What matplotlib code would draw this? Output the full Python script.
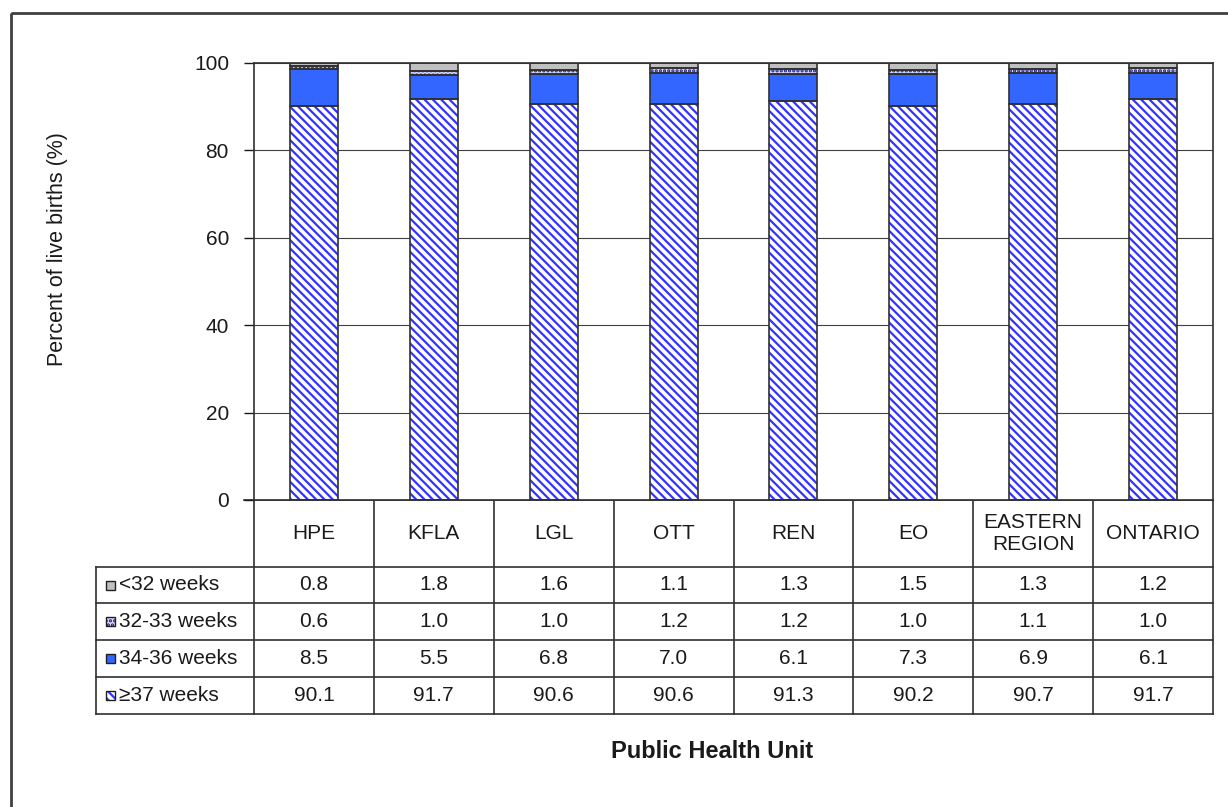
import matplotlib
matplotlib.use('Agg')
import matplotlib.pyplot as plt
from matplotlib.patches import Rectangle

# ---------------- data ----------------
units = ["HPE", "KFLA", "LGL", "OTT", "REN", "EO", "EASTERN\nREGION", "ONTARIO"]
series_names = ["<32 weeks", "32-33 weeks", "34-36 weeks", "\u226537 weeks"]
lt32 = [0.8, 1.8, 1.6, 1.1, 1.3, 1.5, 1.3, 1.2]
w32_33 = [0.6, 1.0, 1.0, 1.2, 1.2, 1.0, 1.1, 1.0]
w34_36 = [8.5, 5.5, 6.8, 7.0, 6.1, 7.3, 6.9, 6.1]
ge37 = [90.1, 91.7, 90.6, 90.6, 91.3, 90.2, 90.7, 91.7]
yticks = [0, 20, 40, 60, 80, 100]
y_label = "Percent of live births (%)"
x_label = "Public Health Unit"

plt.rcParams['font.family'] = ['Liberation Sans', 'DejaVu Sans']
plt.rcParams['hatch.linewidth'] = 1.6

W, H = 1228, 807
fig = plt.figure(figsize=(W / 100, H / 100), dpi=100)
fig.patch.set_facecolor('white')


def fx(px):
    return px / W


def fy(py):
    return 1 - py / H


L, R, T, B = 254, 1213, 63, 500
ax = fig.add_axes([fx(L), fy(B), (R - L) / W, (B - T) / H])

EDGE = '#303030'
TXT = '#1a1a1a'
FS = 15
styles = [
    # (face, hatch, hatchcolor)
    ('#c0c0c0', None, EDGE),
    ('#d8d8ff', '....', '#1a1a80'),
    ('#3366ff', None, EDGE),
    ('white', '\\\\\\\\', '#3333ff'),
]
stack = [ge37, w34_36, w32_33, lt32]
stack_styles = [styles[3], styles[2], styles[1], styles[0]]

x = list(range(len(units)))
bw = 0.4
bottom = [0.0] * len(units)
for vals, (face, hatch, hc) in zip(stack, stack_styles):
    ax.bar(x, vals, bw, bottom=bottom, color=face, hatch=hatch,
           edgecolor=hc, linewidth=0, zorder=2)
    ax.bar(x, vals, bw, bottom=bottom, facecolor='none',
           edgecolor=EDGE, linewidth=1.2, zorder=3)
    bottom = [b + v for b, v in zip(bottom, vals)]

ax.set_xlim(-0.5, len(units) - 0.5)
ax.set_ylim(0, 100)
ax.set_yticks(yticks)
ax.set_xticks([])
ax.yaxis.grid(True, color='#404040', linewidth=0.8)
ax.set_axisbelow(True)
for s in ax.spines.values():
    s.set_color(EDGE)
    s.set_linewidth(1.2)
ax.tick_params(axis='y', length=7, width=1.0, pad=11, labelsize=FS,
               direction='out', colors=TXT)

fig.text(fx(58), fy(249), y_label, rotation=90, ha='center', va='center',
         fontsize=15.5, color=TXT)
fig.text(fx(712), fy(752), x_label, ha='center', va='center',
         fontsize=17, fontweight='bold', color=TXT)

# ---------------- overlay for table / frame ----------------
ov = fig.add_axes([0, 0, 1, 1], zorder=-1)
ov.set_xlim(0, W)
ov.set_ylim(H, 0)
ov.axis('off')

# outer frame
ov.add_patch(Rectangle((11, 13), W + 50, H + 50, facecolor='none',
                       edgecolor='#404040', linewidth=2.0))

# column boundaries from the main axes scale
fig.canvas.draw()
inv = ov.transData.inverted()


def colx(v):
    return inv.transform(ax.transData.transform((v, 0)))[0]


bounds = [colx(i - 0.5) for i in range(len(units) + 1)]
centers = [colx(i) for i in range(len(units))]

TL = 96
rows_y = [500, 567, 603, 640, 677, 714]
lw = 1.2
# horizontal lines
ov.plot([bounds[0] - 10, bounds[-1]], [rows_y[0], rows_y[0]], color=EDGE, lw=lw)
for yy in rows_y[1:]:
    ov.plot([TL, bounds[-1]], [yy, yy], color=EDGE, lw=lw)
# vertical lines
for bx in bounds:
    ov.plot([bx, bx], [rows_y[0], rows_y[-1]], color=EDGE, lw=lw)
ov.plot([TL, TL], [rows_y[1], rows_y[-1]], color=EDGE, lw=lw)

# header
hy = (rows_y[0] + rows_y[1]) / 2
for cx, u in zip(centers, units):
    ov.text(cx, hy, u, ha='center', va='center', fontsize=FS,
            color=TXT, linespacing=1.25)

# value rows
table_rows = [lt32, w32_33, w34_36, ge37]
for r, (name, vals, (face, hatch, hc)) in enumerate(zip(series_names, table_rows, styles)):
    cy = (rows_y[r + 1] + rows_y[r + 2]) / 2
    ov.add_patch(Rectangle((106, cy - 4.5), 9, 9, facecolor=face, hatch=hatch,
                           edgecolor=hc, linewidth=0))
    ov.add_patch(Rectangle((106, cy - 4.5), 9, 9, facecolor='none',
                           edgecolor='#202020', linewidth=1.0))
    ov.text(119, cy, name, ha='left', va='center', fontsize=FS, color=TXT)
    for cx, v in zip(centers, vals):
        ov.text(cx, cy, f"{v:.1f}", ha='center', va='center', fontsize=FS,
                color=TXT)

fig.savefig('out.png', dpi=100, facecolor='white')
